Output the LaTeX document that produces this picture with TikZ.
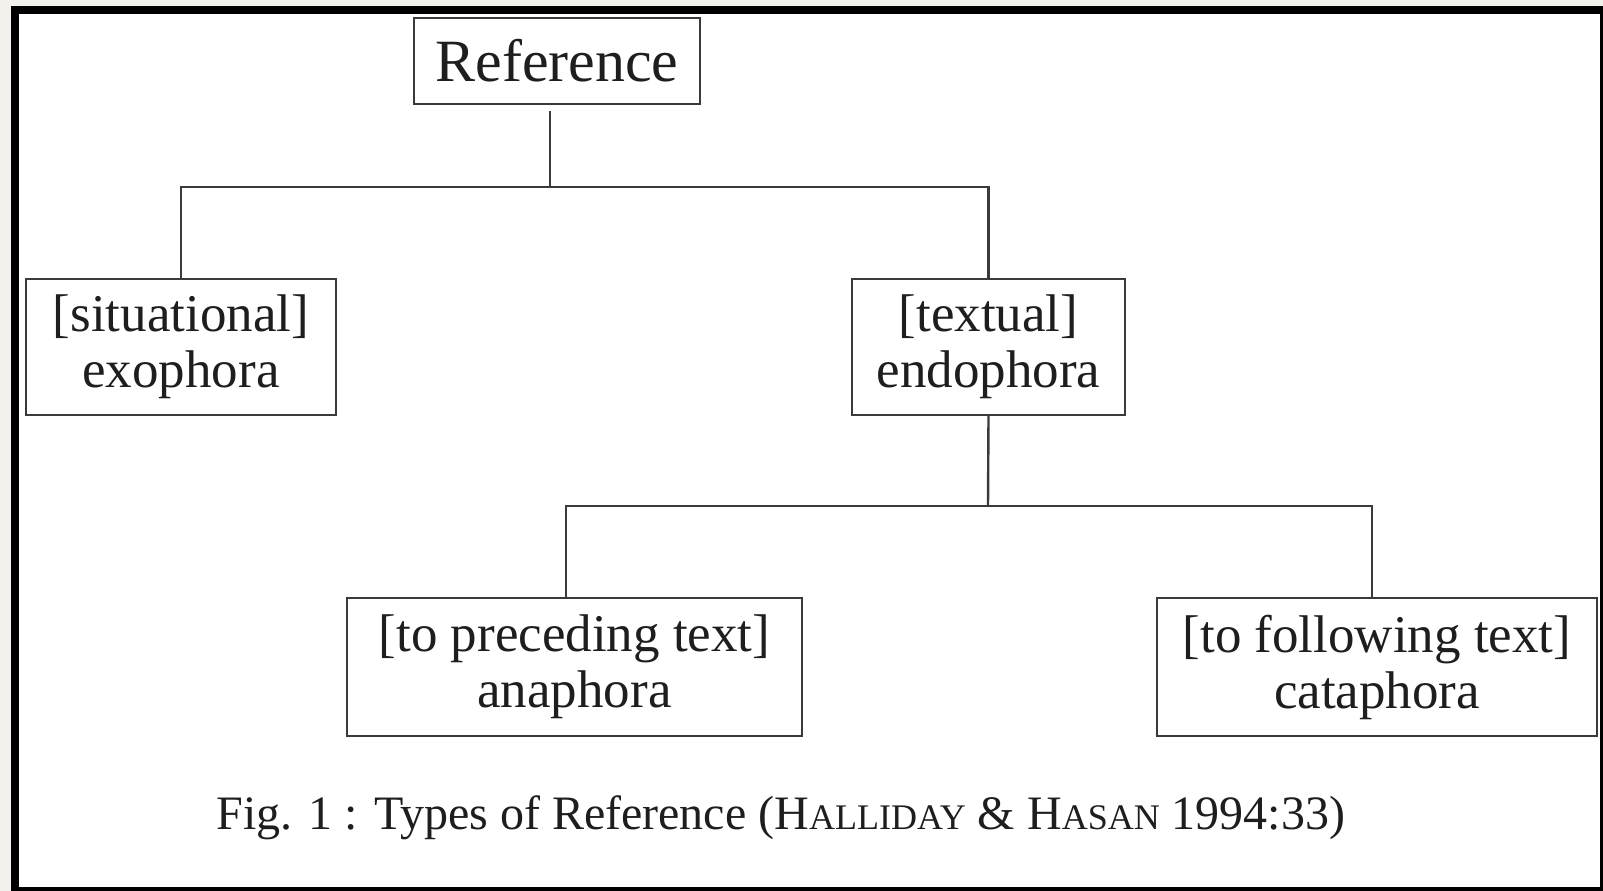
\documentclass[tikz,border=0pt]{standalone}
\usepackage{fontspec}
\setmainfont{Liberation Serif}
\definecolor{pagebg}{HTML}{F2F1EC}
\definecolor{ink}{HTML}{1E1E1E}
\definecolor{rule}{HTML}{3A3A3A}
\newcommand{\mysc}[1]{{\fontsize{36}{40}\selectfont #1}}
\begin{document}
\begin{tikzpicture}[x=1pt,y=-1pt,
  box/.style={draw=rule, line width=2.4pt, fill=white, inner sep=0pt, align=center,
    text=ink, font=\fontsize{53}{56}\selectfont},
  conn/.style={draw=rule, line width=2.4pt}]
  % background and frame
  \fill[pagebg] (0,0) rectangle (1603,891);
  \useasboundingbox (0,0) rectangle (1603,891);
  \fill[black] (11,6) rectangle (1603,891);
  \fill[white] (19,14) rectangle (1600,887);
  % nodes
  \node[box, minimum width=286pt, minimum height=86pt, font=\fontsize{60}{62}\selectfont] (ref) at (557,61) {Reference};
  \node[box, minimum width=310pt, minimum height=136pt] (sit) at (181,347) {[situational]\\exophora};
  \node[box, minimum width=273pt, minimum height=136pt] (tex) at (988.5,347) {[textual]\\endophora};
  \node[box, minimum width=455pt, minimum height=138pt] (prec) at (574.5,667) {[to preceding text]\\anaphora};
  \node[box, minimum width=440pt, minimum height=138pt] (foll) at (1377,667) {[to following text]\\cataphora};
  % junctions
  \coordinate (j1) at (550,187);
  \coordinate (j2) at (988,506);
  \coordinate (pc) at (566,600);
  \coordinate (fc) at (1372,600);
  % connectors
  \draw[conn, shorten <=6pt] (ref.south -| j1) -- (j1);
  \draw[conn] (sit.north) |- (j1) -| (tex.north);
  \draw[conn] (tex.south) -- (j2);
  \draw[conn] (prec.north -| pc) |- (j2) -| (foll.north -| fc);
  % caption
  \node[anchor=base, text=ink, inner sep=0pt, font=\fontsize{48}{50}\selectfont] (cap) at (781,829)
    {Fig. 1 : Types of Reference (H\mysc{ALLIDAY} \& H\mysc{ASAN} 1994:33)};
\end{tikzpicture}
\end{document}
